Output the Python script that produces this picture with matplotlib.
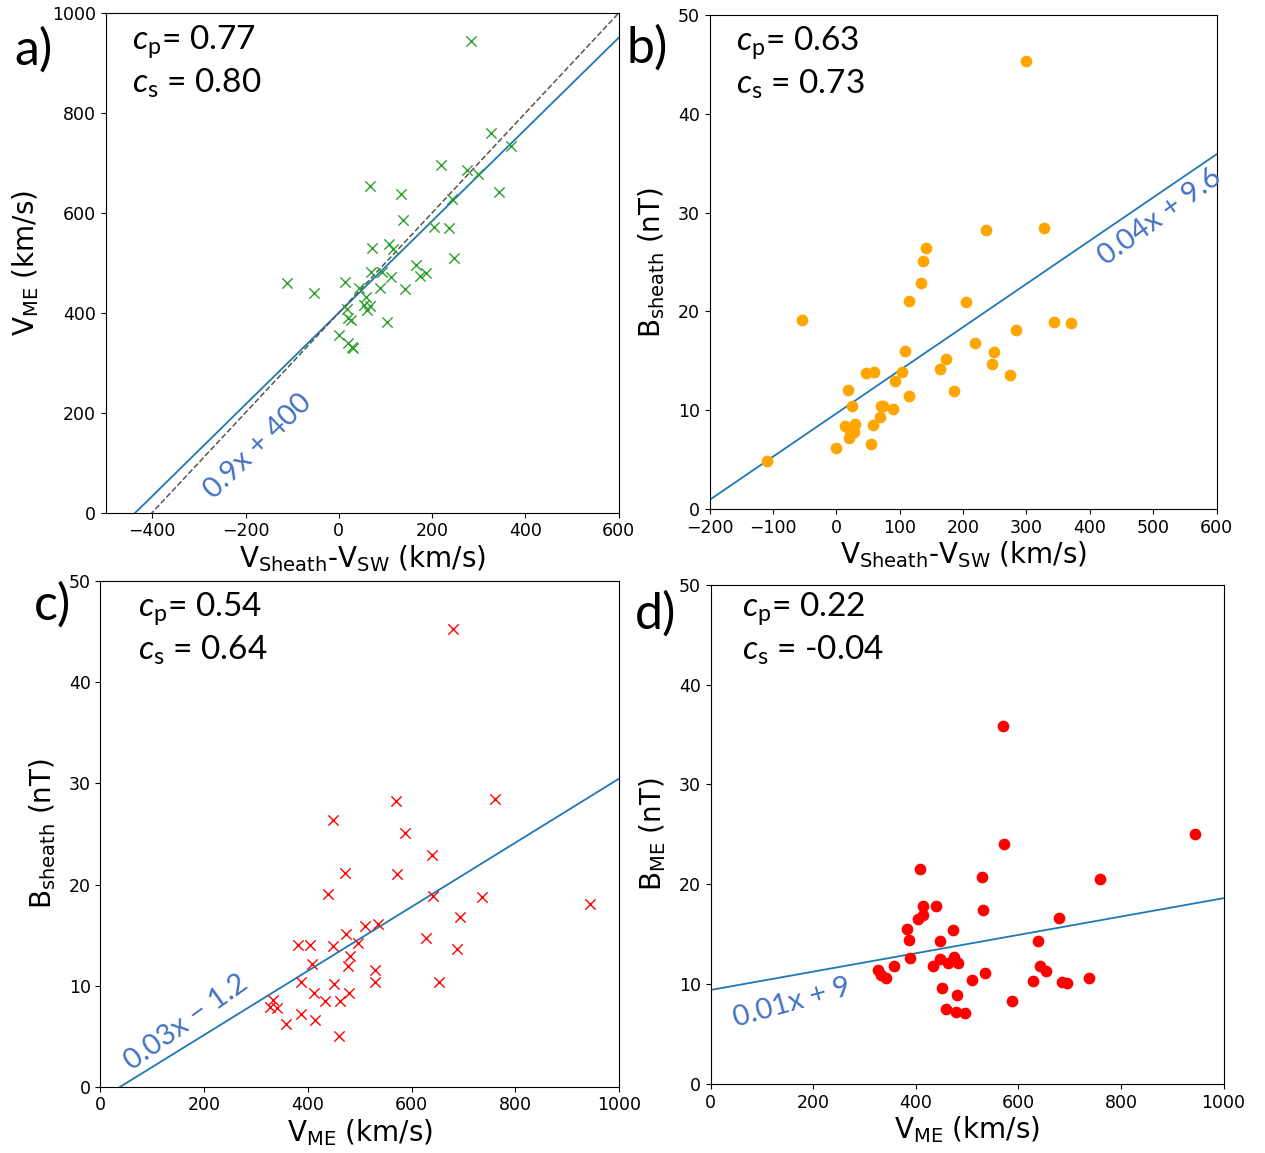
import numpy as np
import matplotlib
matplotlib.use("Agg")
from matplotlib import pyplot as plt

plt.rcParams['font.family'] = ['DejaVu Sans']
plt.rcParams['mathtext.fontset'] = 'custom'
plt.rcParams['mathtext.rm'] = 'Lato'
plt.rcParams['mathtext.it'] = 'Lato:italic'
plt.rcParams['mathtext.sf'] = 'DejaVu Sans'

# a) V_sheath - V_sw vs V_ME
dv_a = [284, 326, 370, 219, 274, 298, 343, 68, 134, 243, 137, 205, 237, 72,
        108, 117, 246, 166, 174, 187, 69, 92, 113, -111, 13, -54, 44, 88, 142,
        58, 17, 54, 67, 60, 20, 26, 103, 0, 20, 29, 31]
vme_a = [945, 760, 735, 695, 685, 678, 642, 653, 638, 628, 586, 572, 569, 529,
         537, 527, 509, 496, 474, 479, 482, 482, 472, 459, 462, 440, 449, 449,
         448, 432, 407, 416, 414, 406, 389, 386, 382, 355, 339, 332, 329]

# b) V_sheath - V_sw vs B_sheath
dv_b = [299, 236, 327, 142, 136, 134, 114, 205, -54, 344, 371, 284, 219, 248,
        109, 173, 164, 245, 274, 46, 60, 103, 93, 186, 115, 18, 25, 70, 74, 89,
        69, 14, 30, 57, 21, 27, 20, 54, 0, -110]
bsh_b = [45.4, 28.3, 28.5, 26.4, 25.1, 22.9, 21.1, 21.0, 19.1, 18.9, 18.8, 18.1,
         16.8, 15.9, 16.0, 15.2, 14.2, 14.7, 13.6, 13.8, 13.9, 13.9, 13.0, 11.9,
         11.4, 12.0, 10.4, 10.4, 10.4, 10.15, 9.3, 8.4, 8.6, 8.5, 7.8, 7.8, 7.15,
         6.6, 6.2, 4.9]

# c) V_ME vs B_sheath
vme_c = [680, 570, 761, 448, 587, 639, 472, 572, 439, 642, 736, 944, 694, 510,
         536, 474, 627, 496, 381, 404, 448, 687, 481, 408, 477, 529, 386, 530,
         652, 450, 412, 480, 432, 461, 332, 326, 341, 387, 357, 414, 459]
bsh_c = [45.3, 28.3, 28.5, 26.4, 25.1, 22.9, 21.1, 21.0, 19.1, 18.9, 18.8, 18.1,
         16.8, 15.9, 16.1, 15.1, 14.7, 14.2, 14.0, 14.0, 13.9, 13.6, 12.9, 12.1,
         11.9, 11.5, 10.4, 10.4, 10.4, 10.2, 9.3, 9.3, 8.5, 8.5, 8.6, 7.9, 7.8,
         7.2, 6.25, 6.6, 5.0]

# d) V_ME vs B_ME
vme_d = [570, 572, 945, 408, 529, 760, 415, 439, 531, 414, 404, 680, 383, 472,
         386, 448, 638, 388, 448, 475, 463, 483, 433, 357, 327, 333, 342, 536,
         642, 654, 628, 510, 686, 695, 737, 451, 481, 587, 459, 478, 496]
bme_d = [35.9, 24.0, 25.0, 21.5, 20.7, 20.5, 17.8, 17.8, 17.4, 16.9, 16.5, 16.65,
         15.5, 15.4, 14.4, 14.3, 14.3, 12.6, 12.5, 12.7, 12.1, 12.1, 11.8, 11.8,
         11.4, 10.9, 10.6, 11.1, 11.8, 11.3, 10.3, 10.4, 10.2, 10.1, 10.6, 9.6,
         8.9, 8.3, 7.5, 7.15, 7.1]

# linear fits (slope, intercept)
fit_a = (0.918, 400)
fit_b = (0.04375, 9.67)
fit_c = (0.0317, -1.22)
fit_d = (0.0092, 9.4)

W, H = 1265, 1153
fig = plt.figure(figsize=(W / 100, H / 100), dpi=100)


def rect(l, t, r, b):
    return [l / W, 1 - b / H, (r - l) / W, (b - t) / H]


ax_a = fig.add_axes(rect(105.6, 13.2, 618.6, 512.5))
ax_b = fig.add_axes(rect(709.7, 15.3, 1216.5, 508.9))
ax_c = fig.add_axes(rect(100.4, 581.2, 619.2, 1086.7))
ax_d = fig.add_axes(rect(710.5, 584.9, 1223.5, 1083.8))

line_c = '#1f77b4'
msize = 55

# a)
ax_a.scatter(dv_a, vme_a, marker='x', color='tab:green', s=msize, linewidths=1.0, zorder=3)
xx = np.array([-500, 600])
ax_a.plot(xx, fit_a[0] * xx + fit_a[1], color=line_c, lw=1.3)
ax_a.plot(xx, xx + 400, '--', color='#555555', lw=1.1)
ax_a.set_xlim(-500, 600)
ax_a.set_ylim(0, 1000)
ax_a.set_xticks(range(-400, 601, 200))
ax_a.set_yticks(range(0, 1001, 200))

# b)
ax_b.scatter(dv_b, bsh_b, marker='o', color='orange', s=msize, zorder=3)
xx = np.array([-200, 600])
ax_b.plot(xx, fit_b[0] * xx + fit_b[1], color=line_c, lw=1.3)
ax_b.set_xlim(-200, 600)
ax_b.set_ylim(0, 50)
ax_b.set_xticks(range(-200, 601, 100))

# c)
ax_c.scatter(vme_c, bsh_c, marker='x', color='red', s=msize, linewidths=1.0, zorder=3)
xx = np.array([0, 1000])
ax_c.plot(xx, fit_c[0] * xx + fit_c[1], color=line_c, lw=1.3)
ax_c.set_xlim(0, 1000)
ax_c.set_ylim(0, 50)

# d)
ax_d.scatter(vme_d, bme_d, marker='o', color='red', s=msize, zorder=3)
ax_d.plot(xx, fit_d[0] * xx + fit_d[1], color=line_c, lw=1.3)
ax_d.set_xlim(0, 1000)
ax_d.set_ylim(0, 50)

for ax in (ax_a, ax_b, ax_c, ax_d):
    ax.tick_params(labelsize=12.5)

lab = 20
ax_a.set_xlabel(r'$\mathsf{V_{Sheath}}$-$\mathsf{V_{SW}}$ (km/s)', fontsize=lab, labelpad=2)
ax_a.set_ylabel(r'$\mathsf{V_{ME}}$ (km/s)', fontsize=lab, labelpad=8)
ax_b.set_xlabel(r'$\mathsf{V_{Sheath}}$-$\mathsf{V_{SW}}$ (km/s)', fontsize=lab, labelpad=2)
ax_b.set_ylabel(r'$\mathsf{B_{sheath}}$ (nT)', fontsize=lab, labelpad=8)
ax_c.set_xlabel(r'$\mathsf{V_{ME}}$ (km/s)', fontsize=lab, labelpad=2)
ax_c.set_ylabel(r'$\mathsf{B_{sheath}}$ (nT)', fontsize=lab, labelpad=8)
ax_d.set_xlabel(r'$\mathsf{V_{ME}}$ (km/s)', fontsize=lab, labelpad=2)
ax_d.set_ylabel(r'$\mathsf{B_{ME}}$ (nT)', fontsize=lab, labelpad=8)


def ftext(x, y, s, **kw):
    fig.text(x / W, 1 - y / H, s, family='Lato', **kw)


# panel letters
ftext(14, 50, 'a)', fontsize=36, va='center')
ftext(627, 48, 'b)', fontsize=36, va='center')
ftext(34, 605, 'c)', fontsize=36, va='center')
ftext(635, 614, 'd)', fontsize=36, va='center')

# correlation coefficients
corr = [(132, 49, '0.77', '0.80'), (736, 50, '0.63', '0.73'),
        (138, 616, '0.54', '0.64'), (742, 616, '0.22', '-0.04')]
for x0, y0, cp, cs in corr:
    ftext(x0, y0, r'$c_{\mathrm{p}}$= ' + cp, fontsize=24, va='baseline')
    ftext(x0, y0 + 44, r'$c_{\mathrm{s}}$ = ' + cs, fontsize=24, va='baseline')

# fit equations
eq_col = '#4472C4'
ftext(258, 446, '0.9x + 400', fontsize=21, color=eq_col, rotation=44,
      ha='center', va='center', rotation_mode='anchor')
ftext(1160, 217, '0.04x + 9.6', fontsize=21, color=eq_col, rotation=36,
      ha='center', va='center', rotation_mode='anchor')
ftext(186, 1023, '0.03x \u2212 1.2', fontsize=21, color=eq_col, rotation=35.5,
      ha='center', va='center', rotation_mode='anchor')
ftext(792, 1003, '0.01x + 9', fontsize=21, color=eq_col, rotation=15.8,
      ha='center', va='center', rotation_mode='anchor')

fig.savefig('out.png', dpi=100)
